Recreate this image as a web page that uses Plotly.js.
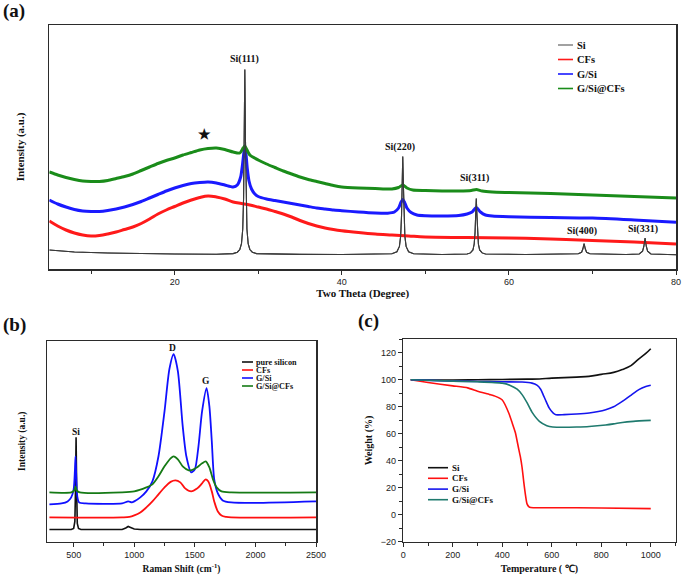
<!DOCTYPE html>
<html><head><meta charset="utf-8">
<script src="https://cdn.plot.ly/plotly-3.0.1.min.js"></script>
<style>html,body{margin:0;padding:0;background:#fff}#chart{width:685px;height:576px}</style>
</head><body><div id="chart"></div>
<script>
// ---------- (a) XRD ----------
const xrdSiX = [5,8,12,16,20,25,27,27.5,27.8,28.0,28.15,28.25,28.32,28.4,28.48,28.55,28.65,28.8,29.0,29.3,29.8,35,40,46.0,46.6,46.9,47.05,47.15,47.22,47.3,47.38,47.45,47.55,47.7,48.0,48.6,52,55.0,55.4,55.7,55.85,55.95,56.02,56.1,56.18,56.25,56.35,56.5,56.8,57.2,62,68.3,68.7,68.85,69.0,69.15,69.3,69.7,74,75.6,76.0,76.15,76.3,76.45,76.6,77.0,80];
const xrdSiY = [19,17,16,15.3,15,14.8,15.4,16.8,19.5,25.4,40,71,127,199.5,127,71,40,25.4,19.5,16.8,15.4,14.6,14.5,15.3,17.3,22.6,32.9,52.8,82.5,112.5,82.5,52.8,32.9,22.6,17.3,15.3,14.5,15,16.1,19.1,25,36.4,53.4,70.5,53.4,36.4,25,19.1,16.1,15,14.5,15.2,16.7,20,25.5,20,16.7,15.2,14.5,15,17.8,22.5,31,22.5,17.8,15,14.2];

const xrdCFsX = [5,6,7,8,9,10,11,12,13,14,15,16,17,18,19,20,21,22,23,24,25,26,27,28,29,30,31,32,33,34,35,36,37,38,39,40,42,44,46,48,50,55,60,65,70,75,80];
const xrdCFsY = [48,43,39,36,34,33,33.5,35,37,39.5,42,45.5,50,55,59,62.5,66,69,71.5,73,72,70,67,65.5,64,62,60,57.5,55,52,48.5,45.5,43,41,39.5,38.3,36.5,35,34,33,32,31.5,31,30,28.5,27,25];

const xrdGSiX = [5,6,7,8,9,10,11,12,13,14,15,16,17,18,19,20,21,22,23,24,25,26,27,27.5,27.9,28.1,28.25,28.4,28.55,28.7,28.9,29.2,29.6,30,31,32,33,34,35,36,37,38,39,40,42,44,45.5,46.3,46.8,47.1,47.3,47.5,47.8,48.3,49,50,52,54,55,55.6,55.9,56.1,56.3,56.6,57.2,58,60,65,70,75,80];
const xrdGSiY = [69,65,62,59.5,58,57.5,57.5,58.5,60,62,64.5,67.5,71,74.5,78,81,83.5,85.5,86.5,87,86,84,82,84,92,103,114,123,114,100,88,80,75,72.5,70,68.5,67,65.5,64,62.5,61,60,59,58.3,57,56,55.8,57,61,67,69.5,67,61,56.5,54,53.3,53,53.5,55,57,60,61.5,60,57,54,53,52.3,51.5,51,49,46.7];

const xrdGSiCFsX = [5,6,7,8,9,10,11,12,13,14,15,16,17,18,19,20,21,22,23,24,25,26,27,27.8,28.2,28.4,28.6,29,30,31,32,33,34,35,36,37,38,39,40,42,44,46,46.8,47.3,47.8,48.5,50,52,54,55.5,56.1,56.8,58,60,65,70,75,80];
const xrdGSiCFsY = [97,94,91.5,89.5,88,87.5,87.5,88.5,90.5,92.5,95,98.5,102,105.5,108.5,111,114,116.5,119,120.5,121,119.5,117,116,121,123,120,114,109,105,101.5,98,95,92,89.5,87.5,85.5,83.5,82,81,80.5,80,81.5,84,81,79,78.5,78,78,78.5,79.5,78,77,76.5,75.5,74,72.5,71];

const xrdPeakLabels = ["Si(111)","★","Si(220)","Si(311)","Si(400)","Si(331)"];
const xrdPeakLabelX = [28.4,23.6,47.0,55.9,68.7,76.05];
const xrdPeakLabelY = [210,135,122,91,38,40];

// ---------- (b) Raman ----------
const ramSiX = [300,480,500,510,515,520,525,530,540,560,600,900,930,950,970,1000,1050,1500,1650,2000,2100,2500];
const ramSiY = [12,12,13,20,50,104,50,18,13,12,12,12,13.5,15,14,12.5,12,12,12.5,12,12.5,12];

const ramCFsX = [300,900,960,1000,1050,1100,1150,1200,1250,1300,1340,1380,1420,1470,1520,1560,1590,1610,1640,1660,1690,1720,1760,1800,2500];
const ramCFsY = [24,24,24.5,26,29,34,40,47,54,59.5,61,59,53,50,53,58,62,60,50,40,30,26,24.5,24,24];

const ramGSiX = [300,400,450,480,500,510,515,520,530,545,600,900,950,980,1000,1050,1100,1150,1200,1250,1290,1325,1360,1400,1430,1470,1500,1530,1560,1597,1620,1640,1660,1690,1730,1800,2000,2500];
const ramGSiY = [37,38,40,44,52,70,85,70,45,39,38,38,40,39,40,44,50,60,85,130,172,187,170,115,85,69,72,95,130,153,135,100,62,48,41,39,38.5,40];

const ramGSiCFsX = [300,480,505,515,525,550,900,1000,1100,1150,1200,1250,1300,1325,1360,1400,1450,1480,1520,1560,1590,1620,1650,1680,1720,1800,2500];
const ramGSiCFsY = [49,49,51,55,51,49,49,50,54,57,65,75,83,85,82,75,71,71.5,74,78,80,74,62,54,50,49,49];

const ramPeakLabels = ["Si","D","G"];
const ramPeakLabelX = [517,1318,1592];
const ramPeakLabelY = [109,193,160];

// ---------- (c) TGA ----------
const tgaSiX = [30,100,200,300,400,500,550,600,700,750,800,850,885,920,952,980,1000];
const tgaSiY = [100,99.8,99.8,100,100.2,100.5,100.6,101.2,102,102.5,104,105.5,107.6,110.5,115.5,119.5,123];

const tgaCFsX = [30,100,200,260,300,350,373,400,427,440,453,465,473,480,487,495,500,508,515,525,540,600,800,1000];
const tgaCFsY = [100,98,95.5,94,91.5,89,87.7,85,75,68,60.8,50,43,35,24,13,8,5.8,5.3,5.2,5.2,5.2,5.0,4.5];

const tgaGSiX = [30,200,400,480,520,540,555,565,577,590,605,617,650,700,751,818,850,885,920,952,980,1000];
const tgaGSiY = [100,99,98.5,98.3,97.5,96,93,89,84,79,75.5,74.1,74.2,74.6,75.4,77.8,80,84,88.5,92.7,95,96];

const tgaGSiCFsX = [30,200,300,400,430,460,480,500,520,550,580,604,650,700,751,818,850,885,930,1000];
const tgaGSiCFsY = [100,99,98.5,97.5,96,93,89,83,76,69.2,66,65,64.8,65,65.4,66.5,67.3,68.4,69.2,69.9];

const legendA = ["Si","CFs","G/Si","G/Si@CFs"];
const legendB = ["pure silicon","CFs","G/Si","G/Si@CFs"];
const legendC = ["Si","CFs","G/Si","G/Si@CFs"];

// ---------- styling ----------
const W = 685, H = 576;
const px = x => x / W, py = y => 1 - y / H;
const SERIF = "Liberation Serif, Times New Roman, serif";
const SANS = "Liberation Sans, Arial, sans-serif";
const FR = "#2b2b2b";

const colA = ["#3a3a3a","#ff1a1a","#1a1aff","#1a8c1a"];
const legColA = ["#8a8a8a","#ff1a1a","#1a1aff","#1a8c1a"];
const colB = ["#111111","#ff1010","#1010ff","#157a15"];
const colC = ["#111111","#ff1010","#1515ee","#1f7a6e"];

const traces = [
  {x:xrdSiX,y:xrdSiY,name:legendA[0],mode:"lines",line:{color:colA[0],width:1.1},xaxis:"x",yaxis:"y"},
  {x:xrdCFsX,y:xrdCFsY,name:legendA[1],mode:"lines",line:{color:colA[1],width:3,shape:"spline"},xaxis:"x",yaxis:"y"},
  {x:xrdGSiX,y:xrdGSiY,name:legendA[2],mode:"lines",line:{color:colA[2],width:3,shape:"spline",smoothing:0.6},xaxis:"x",yaxis:"y"},
  {x:xrdGSiCFsX,y:xrdGSiCFsY,name:legendA[3],mode:"lines",line:{color:colA[3],width:3,shape:"spline",smoothing:0.6},xaxis:"x",yaxis:"y"},
  {x:xrdSiX,y:xrdSiY,name:legendA[0],mode:"lines",line:{color:colA[0],width:1.1},xaxis:"x",yaxis:"y",hoverinfo:"skip"},

  {x:ramSiX,y:ramSiY,name:legendB[0],mode:"lines",line:{color:colB[0],width:1.6},xaxis:"x2",yaxis:"y2"},
  {x:ramCFsX,y:ramCFsY,name:legendB[1],mode:"lines",line:{color:colB[1],width:1.8,shape:"spline"},xaxis:"x2",yaxis:"y2"},
  {x:ramGSiX,y:ramGSiY,name:legendB[2],mode:"lines",line:{color:colB[2],width:1.8,shape:"spline",smoothing:0.7},xaxis:"x2",yaxis:"y2"},
  {x:ramGSiCFsX,y:ramGSiCFsY,name:legendB[3],mode:"lines",line:{color:colB[3],width:1.8,shape:"spline",smoothing:0.7},xaxis:"x2",yaxis:"y2"},

  {x:tgaSiX,y:tgaSiY,name:legendC[0],mode:"lines",line:{color:colC[0],width:1.6,shape:"spline"},xaxis:"x3",yaxis:"y3"},
  {x:tgaCFsX,y:tgaCFsY,name:legendC[1],mode:"lines",line:{color:colC[1],width:1.6,shape:"spline",smoothing:0.5},xaxis:"x3",yaxis:"y3"},
  {x:tgaGSiX,y:tgaGSiY,name:legendC[2],mode:"lines",line:{color:colC[2],width:1.6,shape:"spline",smoothing:0.6},xaxis:"x3",yaxis:"y3"},
  {x:tgaGSiCFsX,y:tgaGSiCFsY,name:legendC[3],mode:"lines",line:{color:colC[3],width:1.6,shape:"spline",smoothing:0.6},xaxis:"x3",yaxis:"y3"}
];
traces.forEach(t => t.showlegend = false);

function frameAxis(extra){
  return Object.assign({showline:true,mirror:true,linecolor:FR,linewidth:1.5,showgrid:false,zeroline:false,
    ticks:"outside",ticklen:4,tickwidth:1,tickcolor:FR,
    tickfont:{family:SANS,size:9,color:"#222"}}, extra);
}
function titleFont(sz){return {family:SERIF,size:sz,color:"#111",weight:"bold"};}

const annotations = [];
const shapes = [];
xrdPeakLabels.forEach((t,i)=>annotations.push({x:xrdPeakLabelX[i],y:xrdPeakLabelY[i],xref:"x",yref:"y",text:t,showarrow:false,
  font:{family:SERIF,size:i===1?14:10,color:"#111",weight:"bold"},yanchor:"middle"}));
ramPeakLabels.forEach((t,i)=>annotations.push({x:ramPeakLabelX[i],y:ramPeakLabelY[i],xref:"x2",yref:"y2",text:t,showarrow:false,
  font:{family:SERIF,size:9.5,color:"#111",weight:"bold"},yanchor:"middle"}));

function addLegend(names, cols, lx0, lx1, tx, rows, fs){
  names.forEach((n,i)=>{
    shapes.push({type:"line",xref:"paper",yref:"paper",x0:px(lx0),x1:px(lx1),y0:py(rows[i]),y1:py(rows[i]),line:{color:cols[i],width:1.6}});
    annotations.push({xref:"paper",yref:"paper",x:px(tx),y:py(rows[i]),text:n,showarrow:false,xanchor:"left",yanchor:"middle",
      font:{family:SERIF,size:fs,color:"#111",weight:"bold"}});
  });
}
addLegend(legendA, legColA, 558, 573, 575, [45,59.5,74,88.5], 10.5);
addLegend(legendB, colB, 242, 253, 254, [362,370,378,386], 8.2);
addLegend(legendC, colC, 428, 448, 449.5, [467.7,478.3,489.1,499.7], 9);

[["(a)",1,11],["(b)",1,325],["(c)",356,321]].forEach(p=>annotations.push({xref:"paper",yref:"paper",x:px(p[1]),y:py(p[2]),text:p[0],
  showarrow:false,xanchor:"left",yanchor:"middle",font:{family:SERIF,size:19,color:"#111",weight:"bold"}}));

const layout = {
  width:W,height:H,margin:{l:0,r:0,t:0,b:0},paper_bgcolor:"#fff",plot_bgcolor:"#fff",showlegend:false,
  xaxis:frameAxis({domain:[px(49.3),px(676)],anchor:"y",range:[5,80],tick0:0,dtick:20,
    minor:{dtick:10,tick0:0,ticks:"outside",ticklen:3,tickcolor:FR},
    title:{text:"Two Theta (Degree)",font:titleFont(11),standoff:3}}),
  yaxis:frameAxis({domain:[py(269),py(25)],anchor:"x",range:[0,244],ticks:"",showticklabels:false,
    title:{text:"Intensity (a.u.)",font:titleFont(11),standoff:21}}),
  xaxis2:frameAxis({domain:[px(47),px(316)],anchor:"y2",range:[280,2500],tick0:0,dtick:500,
    minor:{dtick:250,tick0:0,ticks:"outside",ticklen:3,tickcolor:FR},
    title:{text:"Raman Shift (cm<sup>-1</sup>)",font:titleFont(9.5),standoff:6}}),
  yaxis2:frameAxis({domain:[py(541.5),py(341)],anchor:"x2",range:[0,200],ticks:"",showticklabels:false,
    title:{text:"Intensity (a.u.)",font:titleFont(9.5),standoff:18}}),
  xaxis3:frameAxis({domain:[px(403.3),px(675.5)],anchor:"y3",range:[0,1100],tick0:0,dtick:200,
    minor:{dtick:100,tick0:0,ticks:"outside",ticklen:3,tickcolor:FR},
    title:{text:"Temperature ( ℃)",font:titleFont(10),standoff:6}}),
  yaxis3:frameAxis({domain:[py(541.7),py(339.3)],anchor:"x3",range:[-20,130],tick0:0,dtick:20,
    minor:{dtick:10,tick0:0,ticks:"outside",ticklen:3,tickcolor:FR},
    title:{text:"Weight (%)",font:titleFont(10),standoff:6}}),
  annotations:annotations,
  shapes:shapes
};
Plotly.newPlot("chart",traces,layout,{displayModeBar:false,staticPlot:true});
</script>
</body></html>
